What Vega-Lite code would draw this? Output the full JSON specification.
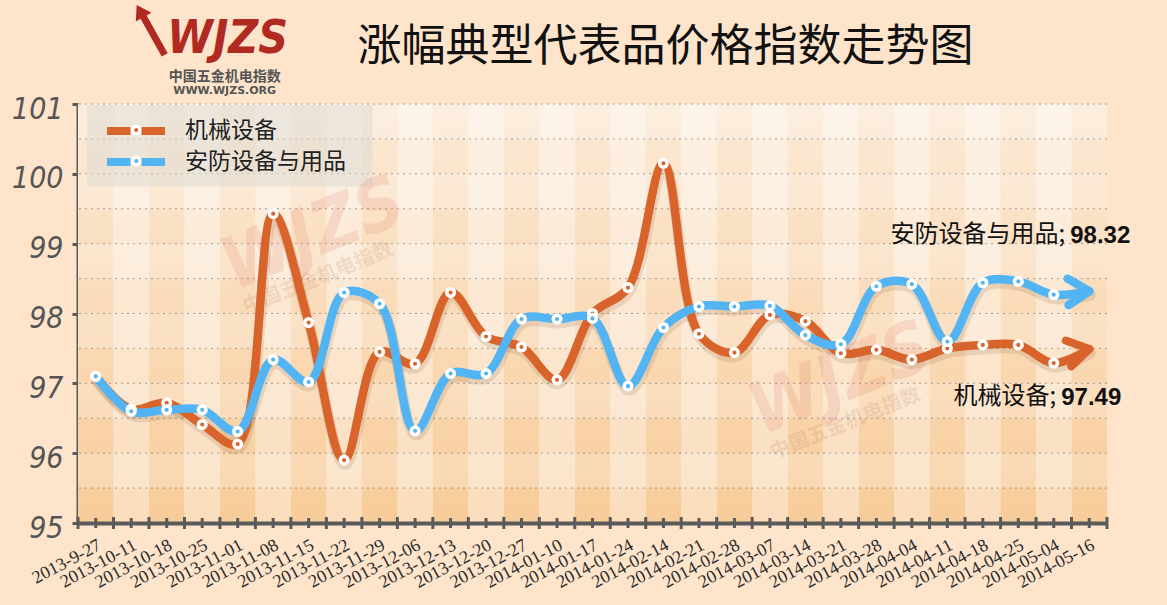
{
  "$schema": "https://vega.github.io/schema/vega-lite/v6.json",
  "width": 1029,
  "height": 419,
  "autosize": {"type": "none"},
  "padding": {"left": 78, "top": 104, "right": 60, "bottom": 82},
  "background": "#FDE4CB",
  "config": {
    "view": {"stroke": null},
    "legend": {
      "orient": "none",
      "legendX": 9,
      "legendY": 2,
      "symbolType": "M -2.9 0 L -0.55 0 M 0.55 0 L 2.9 0",
      "symbolSize": 400,
      "symbolStrokeWidth": 8,
      "symbolOpacity": 1,
      "symbolOffset": 24,
      "labelFont": "Noto Sans CJK SC",
      "labelFontSize": 23,
      "labelColor": "#222222",
      "labelLimit": 400,
      "padding": 11,
      "rowPadding": -1,
      "labelOffset": 35
    }
  },
  "datasets": {
    "main": [
      {"date": "2013-9-27", "series": "机械设备", "value": 97.10},
      {"date": "2013-10-11", "series": "机械设备", "value": 96.63},
      {"date": "2013-10-18", "series": "机械设备", "value": 96.72},
      {"date": "2013-10-25", "series": "机械设备", "value": 96.41},
      {"date": "2013-11-01", "series": "机械设备", "value": 96.13},
      {"date": "2013-11-08", "series": "机械设备", "value": 99.43},
      {"date": "2013-11-15", "series": "机械设备", "value": 97.87},
      {"date": "2013-11-22", "series": "机械设备", "value": 95.90},
      {"date": "2013-11-29", "series": "机械设备", "value": 97.45},
      {"date": "2013-12-06", "series": "机械设备", "value": 97.28},
      {"date": "2013-12-13", "series": "机械设备", "value": 98.30},
      {"date": "2013-12-20", "series": "机械设备", "value": 97.67},
      {"date": "2013-12-27", "series": "机械设备", "value": 97.52},
      {"date": "2014-01-10", "series": "机械设备", "value": 97.05},
      {"date": "2014-01-17", "series": "机械设备", "value": 98.00},
      {"date": "2014-01-24", "series": "机械设备", "value": 98.37},
      {"date": "2014-02-14", "series": "机械设备", "value": 100.15},
      {"date": "2014-02-21", "series": "机械设备", "value": 97.71},
      {"date": "2014-02-28", "series": "机械设备", "value": 97.44},
      {"date": "2014-03-07", "series": "机械设备", "value": 97.98},
      {"date": "2014-03-14", "series": "机械设备", "value": 97.89},
      {"date": "2014-03-21", "series": "机械设备", "value": 97.43},
      {"date": "2014-03-28", "series": "机械设备", "value": 97.48},
      {"date": "2014-04-04", "series": "机械设备", "value": 97.34},
      {"date": "2014-04-11", "series": "机械设备", "value": 97.50},
      {"date": "2014-04-18", "series": "机械设备", "value": 97.55},
      {"date": "2014-04-25", "series": "机械设备", "value": 97.55},
      {"date": "2014-05-04", "series": "机械设备", "value": 97.29},
      {"date": "2014-05-16", "series": "机械设备", "value": 97.49},
      {"date": "2013-9-27", "series": "安防设备与用品", "value": 97.10},
      {"date": "2013-10-11", "series": "安防设备与用品", "value": 96.60},
      {"date": "2013-10-18", "series": "安防设备与用品", "value": 96.62},
      {"date": "2013-10-25", "series": "安防设备与用品", "value": 96.62},
      {"date": "2013-11-01", "series": "安防设备与用品", "value": 96.31},
      {"date": "2013-11-08", "series": "安防设备与用品", "value": 97.34},
      {"date": "2013-11-15", "series": "安防设备与用品", "value": 97.02},
      {"date": "2013-11-22", "series": "安防设备与用品", "value": 98.30},
      {"date": "2013-11-29", "series": "安防设备与用品", "value": 98.14},
      {"date": "2013-12-06", "series": "安防设备与用品", "value": 96.32},
      {"date": "2013-12-13", "series": "安防设备与用品", "value": 97.14},
      {"date": "2013-12-20", "series": "安防设备与用品", "value": 97.14},
      {"date": "2013-12-27", "series": "安防设备与用品", "value": 97.92},
      {"date": "2014-01-10", "series": "安防设备与用品", "value": 97.92},
      {"date": "2014-01-17", "series": "安防设备与用品", "value": 97.93},
      {"date": "2014-01-24", "series": "安防设备与用品", "value": 96.96},
      {"date": "2014-02-14", "series": "安防设备与用品", "value": 97.80},
      {"date": "2014-02-21", "series": "安防设备与用品", "value": 98.10},
      {"date": "2014-02-28", "series": "安防设备与用品", "value": 98.10},
      {"date": "2014-03-07", "series": "安防设备与用品", "value": 98.11},
      {"date": "2014-03-14", "series": "安防设备与用品", "value": 97.69},
      {"date": "2014-03-21", "series": "安防设备与用品", "value": 97.56},
      {"date": "2014-03-28", "series": "安防设备与用品", "value": 98.39},
      {"date": "2014-04-04", "series": "安防设备与用品", "value": 98.42},
      {"date": "2014-04-11", "series": "安防设备与用品", "value": 97.60},
      {"date": "2014-04-18", "series": "安防设备与用品", "value": 98.44},
      {"date": "2014-04-25", "series": "安防设备与用品", "value": 98.46},
      {"date": "2014-05-04", "series": "安防设备与用品", "value": 98.27},
      {"date": "2014-05-16", "series": "安防设备与用品", "value": 98.32}
    ],
    "hbands": [
      {"lo": 95.5, "hi": 96}, {"lo": 96.5, "hi": 97}, {"lo": 97.5, "hi": 98},
      {"lo": 98.5, "hi": 99}, {"lo": 99.5, "hi": 100}, {"lo": 100.5, "hi": 101}
    ],
    "grid": [
      {"v": 95.5}, {"v": 96}, {"v": 96.5}, {"v": 97}, {"v": 97.5}, {"v": 98},
      {"v": 98.5}, {"v": 99}, {"v": 99.5}, {"v": 100}, {"v": 100.5}, {"v": 101}
    ]
  },
  "layer": [
    {
      "data": {"name": "main"},
      "transform": [{"filter": "datum.series == '机械设备'"}],
      "mark": {"type": "rect", "color": {"gradient": "linear", "x1": 0, "y1": 0, "x2": 0, "y2": 1, "stops": [{"offset": 0, "color": "#FCEAD7"}, {"offset": 1, "color": "#F8CC99"}]}},
      "encoding": {
        "x": {"field": "date", "type": "ordinal"},
        "y": {"datum": 101},
        "y2": {"datum": 95}
      }
    },
    {
      "data": {"name": "main"},
      "transform": [{"filter": "datum.series == '机械设备' && indexof(['2013-10-11','2013-10-25','2013-11-08','2013-11-22','2013-12-06','2013-12-20','2014-01-10','2014-01-24','2014-02-21','2014-03-07','2014-03-21','2014-04-04','2014-04-18','2014-05-04'], datum.date) >= 0"}],
      "mark": {"type": "rect", "color": "#FFFFFF", "opacity": 0.35},
      "encoding": {
        "x": {"field": "date", "type": "ordinal"},
        "y": {"datum": 101},
        "y2": {"datum": 95}
      }
    },
    {
      "data": {"name": "hbands"},
      "mark": {"type": "rect", "color": "#FFFFFF", "opacity": 0.2},
      "encoding": {
        "y": {"field": "hi", "type": "quantitative"},
        "y2": {"field": "lo"}
      }
    },
    {
      "data": {"name": "grid"},
      "mark": {"type": "rule", "color": "#8a8a8a", "strokeDash": [2, 4], "strokeWidth": 1, "opacity": 0.8},
      "encoding": {
        "y": {"field": "v", "type": "quantitative"}
      }
    },
    {
      "data": {"name": "main"},
      "transform": [{"filter": "datum.date == '2013-9-27' && datum.series == '机械设备'"}],
      "mark": {"type": "rect", "color": "#DEDAD2", "opacity": 0.55, "xOffset": 9, "x2Offset": 46},
      "encoding": {
        "x": {"datum": "2013-9-27", "bandPosition": 0},
        "x2": {"datum": "2013-11-22", "bandPosition": 0},
        "y": {"datum": 100.986},
        "y2": {"datum": 99.82}
      }
    },
    {
      "data": {"name": "main"},
      "transform": [{"filter": "datum.date == '2013-11-15' && datum.series == '机械设备'"}],
      "mark": {"type": "text", "text": "WJZS", "font": "DejaVu Sans Condensed", "fontWeight": "bold", "fontStyle": "italic", "fontSize": 72, "angle": 338, "color": "#E0735A", "opacity": 0.17, "dx": 5},
      "encoding": {
        "x": {"field": "date", "type": "ordinal"},
        "y": {"datum": 99.1}
      }
    },
    {
      "data": {"name": "main"},
      "transform": [{"filter": "datum.date == '2013-11-15' && datum.series == '机械设备'"}],
      "mark": {"type": "text", "text": "中国五金机电指数", "font": "Noto Sans CJK SC", "fontWeight": "bold", "fontSize": 20, "angle": 338, "color": "#B0705A", "opacity": 0.15, "dx": 10},
      "encoding": {
        "x": {"field": "date", "type": "ordinal"},
        "y": {"datum": 98.45}
      }
    },
    {
      "data": {"name": "main"},
      "transform": [{"filter": "datum.date == '2014-03-21' && datum.series == '机械设备'"}],
      "mark": {"type": "text", "text": "WJZS", "font": "DejaVu Sans Condensed", "fontWeight": "bold", "fontStyle": "italic", "fontSize": 72, "angle": 338, "color": "#E0735A", "opacity": 0.17, "dx": 0},
      "encoding": {
        "x": {"field": "date", "type": "ordinal"},
        "y": {"datum": 97.05}
      }
    },
    {
      "data": {"name": "main"},
      "transform": [{"filter": "datum.date == '2014-03-21' && datum.series == '机械设备'"}],
      "mark": {"type": "text", "text": "中国五金机电指数", "font": "Noto Sans CJK SC", "fontWeight": "bold", "fontSize": 20, "angle": 338, "color": "#B0705A", "opacity": 0.15, "dx": 5},
      "encoding": {
        "x": {"field": "date", "type": "ordinal"},
        "y": {"datum": 96.4}
      }
    },
    {
      "data": {"name": "main"},
      "mark": {"type": "line", "interpolate": "catmull-rom", "strokeWidth": 11, "strokeCap": "round", "strokeJoin": "round", "color": "#6b3a1a", "opacity": 0.13, "yOffset": 4, "xOffset": 1},
      "encoding": {
        "x": {"field": "date", "type": "ordinal"},
        "y": {"field": "value", "type": "quantitative"},
        "detail": {"field": "series", "type": "nominal"}
      }
    },
    {
      "data": {"name": "main"},
      "mark": {"type": "line", "interpolate": "catmull-rom", "strokeWidth": 8.5, "strokeCap": "round", "strokeJoin": "round"},
      "encoding": {
        "x": {
          "field": "date",
          "type": "ordinal",
          "scale": {
            "type": "band",
            "domain": ["2013-9-27", "2013-10-11", "2013-10-18", "2013-10-25", "2013-11-01", "2013-11-08", "2013-11-15", "2013-11-22", "2013-11-29", "2013-12-06", "2013-12-13", "2013-12-20", "2013-12-27", "2014-01-10", "2014-01-17", "2014-01-24", "2014-02-14", "2014-02-21", "2014-02-28", "2014-03-07", "2014-03-14", "2014-03-21", "2014-03-28", "2014-04-04", "2014-04-11", "2014-04-18", "2014-04-25", "2014-05-04", "2014-05-16"],
            "paddingInner": 0,
            "paddingOuter": 0
          },
          "axis": {
            "title": null,
            "ticks": false,
            "grid": false,
            "domainColor": "#5a5a5a",
            "domainWidth": 4,
            "labelAngle": -28,
            "labelAlign": "right",
            "labelBaseline": "top",
            "labelPadding": 13,
            "labelFont": "Liberation Serif",
            "labelFontSize": 18,
            "labelColor": "#2a2a2a",
            "labelOverlap": false
          }
        },
        "y": {
          "field": "value",
          "type": "quantitative",
          "scale": {"domain": [95, 101], "nice": false, "zero": false},
          "axis": {
            "title": null,
            "values": [95, 95.5, 96, 96.5, 97, 97.5, 98, 98.5, 99, 99.5, 100, 100.5, 101],
            "format": ".0f",
            "labelExpr": "datum.value % 1 === 0 ? datum.label : ''",
            "grid": false,
            "domainColor": "#5a5a5a",
            "domainWidth": 4,
            "tickColor": "#5a5a5a",
            "tickWidth": 3,
            "tickSize": 6,
            "labelFont": "DejaVu Sans Condensed",
            "labelFontSize": 30,
            "labelFontStyle": "italic",
            "labelColor": "#555555",
            "labelPadding": 9,
            "labelOffset": 5
          }
        },
        "color": {
          "field": "series",
          "type": "nominal",
          "scale": {"domain": ["机械设备", "安防设备与用品"], "range": ["#D8632B", "#52B4F2"]},
          "legend": {"title": null}
        }
      }
    },
    {
      "data": {"name": "main"},
      "transform": [{"filter": "datum.date != '2014-05-16'"}],
      "mark": {"type": "point", "shape": "circle", "filled": true, "opacity": 1, "size": 58, "stroke": "#FFFFFF", "strokeWidth": 3.5},
      "encoding": {
        "x": {"field": "date", "type": "ordinal"},
        "y": {"field": "value", "type": "quantitative"},
        "color": {"field": "series", "type": "nominal", "legend": null}
      }
    },
    {
      "data": {"name": "main"},
      "transform": [{"filter": "datum.date == '2013-10-11' && datum.series == '机械设备'"}],
      "mark": {"type": "point", "shape": "circle", "filled": true, "opacity": 1, "size": 58, "stroke": "#FFFFFF", "strokeWidth": 3.5, "xOffset": 5},
      "encoding": {
        "x": {"field": "date", "type": "ordinal"},
        "y": {"datum": 100.628},
        "color": {"field": "series", "type": "nominal", "legend": null}
      }
    },
    {
      "data": {"name": "main"},
      "transform": [{"filter": "datum.date == '2013-10-11' && datum.series == '安防设备与用品'"}],
      "mark": {"type": "point", "shape": "circle", "filled": true, "opacity": 1, "size": 58, "stroke": "#FFFFFF", "strokeWidth": 3.5, "xOffset": 5},
      "encoding": {
        "x": {"field": "date", "type": "ordinal"},
        "y": {"datum": 100.184},
        "color": {"field": "series", "type": "nominal", "legend": null}
      }
    },
    {
      "data": {"name": "main"},
      "transform": [{"filter": "datum.date == '2014-05-16' && datum.series == '机械设备'"}],
      "mark": {"type": "point", "shape": "M -1.6 -1 L 0 0 L -1.6 1", "filled": false, "strokeWidth": 8, "size": 700, "angle": -12, "strokeCap": "round", "strokeJoin": "round", "opacity": 1, "color": "#D8632B"},
      "encoding": {
        "x": {"field": "date", "type": "ordinal"},
        "y": {"field": "value", "type": "quantitative"}
      }
    },
    {
      "data": {"name": "main"},
      "transform": [{"filter": "datum.date == '2014-05-16' && datum.series == '安防设备与用品'"}],
      "mark": {"type": "point", "shape": "M -1.6 -1 L 0 0 L -1.6 1", "filled": false, "strokeWidth": 8.5, "size": 700, "angle": -2, "strokeCap": "round", "strokeJoin": "round", "opacity": 1, "color": "#52B4F2"},
      "encoding": {
        "x": {"field": "date", "type": "ordinal"},
        "y": {"field": "value", "type": "quantitative"}
      }
    },
    {
      "data": {"name": "main"},
      "transform": [{"filter": "datum.date == '2014-05-16' && datum.series == '安防设备与用品'"}],
      "mark": {"type": "text", "text": "安防设备与用品;", "font": "Noto Sans CJK SC", "fontSize": 24, "align": "right", "baseline": "middle", "dx": -24, "dy": -56, "color": "#111111"},
      "encoding": {
        "x": {"field": "date", "type": "ordinal"},
        "y": {"field": "value", "type": "quantitative"}
      }
    },
    {
      "data": {"name": "main"},
      "transform": [{"filter": "datum.date == '2014-05-16' && datum.series == '安防设备与用品'"}],
      "mark": {"type": "text", "font": "Liberation Sans", "fontWeight": "bold", "fontSize": 24, "align": "left", "baseline": "middle", "dx": -19, "dy": -55, "color": "#111111"},
      "encoding": {
        "x": {"field": "date", "type": "ordinal"},
        "y": {"field": "value", "type": "quantitative"},
        "text": {"field": "value", "type": "quantitative", "format": ".2f"}
      }
    },
    {
      "data": {"name": "main"},
      "transform": [{"filter": "datum.date == '2014-05-16' && datum.series == '机械设备'"}],
      "mark": {"type": "text", "text": "机械设备;", "font": "Noto Sans CJK SC", "fontSize": 24, "align": "right", "baseline": "middle", "dx": -33, "dy": 48, "color": "#111111"},
      "encoding": {
        "x": {"field": "date", "type": "ordinal"},
        "y": {"field": "value", "type": "quantitative"}
      }
    },
    {
      "data": {"name": "main"},
      "transform": [{"filter": "datum.date == '2014-05-16' && datum.series == '机械设备'"}],
      "mark": {"type": "text", "font": "Liberation Sans", "fontWeight": "bold", "fontSize": 24, "align": "left", "baseline": "middle", "dx": -28, "dy": 49, "color": "#111111"},
      "encoding": {
        "x": {"field": "date", "type": "ordinal"},
        "y": {"field": "value", "type": "quantitative"},
        "text": {"field": "value", "type": "quantitative", "format": ".2f"}
      }
    },
    {
      "data": {"name": "main"},
      "transform": [{"filter": "datum.series == '机械设备'"}],
      "mark": {"type": "tick", "orient": "vertical", "xOffset": -17.74, "size": 12, "thickness": 3, "color": "#5a5a5a", "opacity": 1},
      "encoding": {
        "x": {"field": "date", "type": "ordinal"},
        "y": {"datum": 95}
      }
    },
    {
      "data": {"name": "main"},
      "transform": [{"filter": "datum.series == '机械设备'"}],
      "mark": {"type": "tick", "orient": "vertical", "size": 10, "thickness": 3, "color": "#5a5a5a", "opacity": 1},
      "encoding": {
        "x": {"field": "date", "type": "ordinal"},
        "y": {"datum": 95}
      }
    },
    {
      "data": {"name": "main"},
      "transform": [{"filter": "datum.series == '机械设备' && datum.date == '2014-05-16'"}],
      "mark": {"type": "tick", "orient": "vertical", "xOffset": 17.74, "size": 12, "thickness": 3, "color": "#5a5a5a", "opacity": 1},
      "encoding": {
        "x": {"field": "date", "type": "ordinal"},
        "y": {"datum": 95}
      }
    },
    {
      "data": {"name": "main"},
      "transform": [{"filter": "datum.date == '2013-10-18' && datum.series == '机械设备'"}],
      "mark": {"type": "point", "shape": "M -0.52 -0.92 L 0.068 -0.608 L -0.122 -0.5 L 0.722 1.012 L 0.478 1.148 L -0.366 -0.364 L -0.556 -0.256 Z", "filled": true, "size": 2500, "opacity": 1, "color": "#B02A22", "xOffset": -17},
      "encoding": {
        "x": {"field": "date", "type": "ordinal"},
        "y": {"datum": 102.09}
      }
    },
    {
      "data": {"name": "main"},
      "transform": [{"filter": "datum.date == '2013-11-01' && datum.series == '机械设备'"}],
      "mark": {"type": "text", "text": "WJZS", "font": "DejaVu Sans Condensed", "fontWeight": "bold", "fontStyle": "italic", "fontSize": 46, "color": "#B02A22", "align": "center", "baseline": "middle", "dx": -10},
      "encoding": {
        "x": {"field": "date", "type": "ordinal"},
        "y": {"datum": 101.93}
      }
    },
    {
      "data": {"name": "main"},
      "transform": [{"filter": "datum.date == '2013-11-01' && datum.series == '机械设备'"}],
      "mark": {"type": "text", "text": "中国五金机电指数", "font": "Noto Sans CJK SC", "fontWeight": "bold", "fontSize": 14, "color": "#555555", "align": "center", "baseline": "middle", "dx": -13},
      "encoding": {
        "x": {"field": "date", "type": "ordinal"},
        "y": {"datum": 101.38}
      }
    },
    {
      "data": {"name": "main"},
      "transform": [{"filter": "datum.date == '2013-11-01' && datum.series == '机械设备'"}],
      "mark": {"type": "text", "text": "WWW.WJZS.ORG", "font": "DejaVu Sans", "fontWeight": "bold", "fontSize": 11, "color": "#555555", "align": "center", "baseline": "middle", "dx": -13},
      "encoding": {
        "x": {"field": "date", "type": "ordinal"},
        "y": {"datum": 101.18}
      }
    },
    {
      "data": {"name": "main"},
      "transform": [{"filter": "datum.date == '2014-02-14' && datum.series == '机械设备'"}],
      "mark": {"type": "text", "text": "涨幅典型代表品价格指数走势图", "font": "Noto Sans CJK SC", "fontSize": 44, "color": "#111111", "align": "center", "baseline": "middle", "dx": 2},
      "encoding": {
        "x": {"field": "date", "type": "ordinal"},
        "y": {"datum": 101.8}
      }
    }
  ]
}
